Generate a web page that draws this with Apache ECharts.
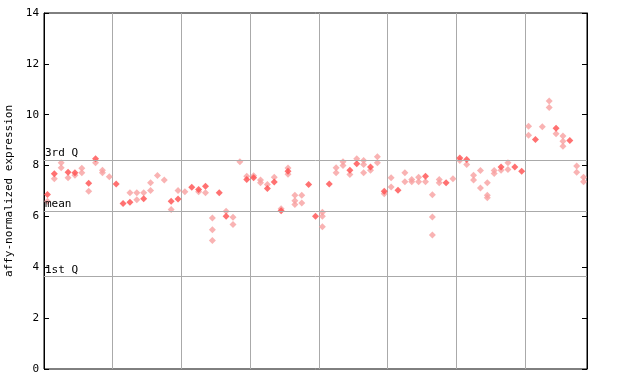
<!DOCTYPE html>
<html>
<head>
<meta charset="utf-8">
<script src="https://cdn.jsdelivr.net/npm/echarts@6/dist/echarts.min.js"></script>
<style>html,body{margin:0;padding:0;background:#fff}#c{width:640px;height:384px}</style>
</head>
<body>
<div id="c"></div>
<script>
// 79 samples, 8 groups (10,10,10,10,10,10,10,9)
const solidValues = [
  [6.86],[7.68],[],[7.74],[7.72],[],[7.30],[8.27],[],[],
  [7.28],[6.51],[6.56],[],[6.70],[],[],[],[6.60],[6.69],
  [],[7.15],[7.06],[7.19],[],[6.93],[6.01],[],[],[7.45],
  [7.52],[],[7.10],[7.35],[6.22],[7.78],[],[],[7.26],[6.01],
  [],[7.28],[],[],[7.82],[8.07],[],[7.94],[],[6.99],
  [],[7.03],[],[],[],[7.58],[],[],[7.32],[],
  [8.30],[8.24],[],[],[],[],[7.94],[],[7.94],[7.78],
  [],[9.03],[],[],[9.47],[],[8.99],[],[]
];
const hatchedValues = [
  [6.60],[7.48],[8.11,7.91],[7.52],[7.62],[7.89,7.72],[6.99],[8.11],[7.82,7.72],[7.56],
  [],[],[6.93],[6.93,6.66],[6.93],[7.32,7.02],[7.61],[7.43],[6.27],[7.02],
  [6.97],[],[6.97],[6.93],[5.94,5.48,5.05],[],[6.20],[5.97,5.68],[8.15],[7.58],
  [7.60],[7.43,7.32],[7.26],[7.54],[6.30],[7.90,7.66],[6.83,6.62,6.47],[6.83,6.53],[],[],
  [6.16,6.01,5.59],[],[7.91,7.72],[8.15,8.00],[7.65],[8.27],[8.20,8.04,7.72],[7.82],[8.35,8.11],[6.89],
  [7.52,7.16],[],[7.72,7.36],[7.45,7.36],[7.54,7.36],[7.36],[6.85,5.98,5.27],[7.45,7.32],[],[7.48],
  [8.20],[8.04],[7.62,7.43],[7.81,7.12],[7.32,6.83,6.73],[7.81,7.69],[7.82],[8.11,7.85],[],[],
  [9.55,9.19],[],[9.53],[10.54,10.28],[9.25],[9.16,8.96,8.76],[],[7.98,7.74],[7.54,7.36]
];
const sampleCount = 79;
const groupSize = 10;
const quartileValues = [8.22, 6.22, 3.64];
const quartileLabels = ['3rd Q', 'mean', '1st Q'];
const yTicks = [0, 2, 4, 6, 8, 10, 12, 14];
const yTitle = 'affy-normalized expression';

function pts(arr){
  const out = [];
  arr.forEach((vals, i) => vals.forEach(v => out.push([i + 0.5, v])));
  return out;
}
const font = 'DejaVu Sans Mono';
const chart = echarts.init(document.getElementById('c'), null, {renderer:'canvas'});
chart.setOption({
  animation: false,
  backgroundColor: '#fff',
  grid: {left: 44, top: 13, width: 543, height: 356, outerBoundsMode: 'none', containLabel: false,
    show: true, borderColor: '#000', borderWidth: 1, backgroundColor: 'transparent'},
  xAxis: {
    type: 'value', min: 0, max: sampleCount, interval: groupSize,
    axisLine: {show: false}, axisTick: {show: false}, axisLabel: {show: false},
    splitLine: {show: true, lineStyle: {color: '#aaaaaa', width: 1}}
  },
  yAxis: [{
    type: 'value', min: yTicks[0], max: yTicks[yTicks.length-1], interval: 2,
    name: yTitle, nameLocation: 'middle', nameGap: 28,
    nameTextStyle: {fontFamily: font, fontSize: 11, color: '#000'},
    axisLine: {show: true, lineStyle: {color: '#000'}},
    axisTick: {show: true, inside: true, length: 5, lineStyle: {color: '#000'}},
    axisLabel: {fontFamily: font, fontSize: 11, color: '#000', margin: 5},
    splitLine: {show: false}
  }, {
    type: 'value', position: 'right', min: yTicks[0], max: yTicks[yTicks.length-1], interval: 2,
    axisLine: {show: true, lineStyle: {color: '#000'}},
    axisTick: {show: true, inside: true, length: 5, lineStyle: {color: '#000'}},
    axisLabel: {show: false}, splitLine: {show: false}
  }],
  series: [{
    type: 'scatter', symbol: 'diamond', symbolSize: 7,
    data: pts(hatchedValues),
    itemStyle: {color: '#f7a0a0'},
    markLine: {
      silent: true, symbol: 'none', animation: false,
      lineStyle: {color: '#aaaaaa', type: 'solid', width: 1},
      label: {position: 'insideStartTop', distance: [1, 1], fontFamily: font, fontSize: 11, color: '#000',
        formatter: p => quartileLabels[p.dataIndex]},
      data: quartileValues.map(v => ({yAxis: v}))
    },
    z: 2
  }, {
    type: 'scatter', symbol: 'diamond', symbolSize: 7,
    data: pts(solidValues),
    itemStyle: {color: '#ff4d4d'},
    z: 3
  }]
});
</script>
</body>
</html>
